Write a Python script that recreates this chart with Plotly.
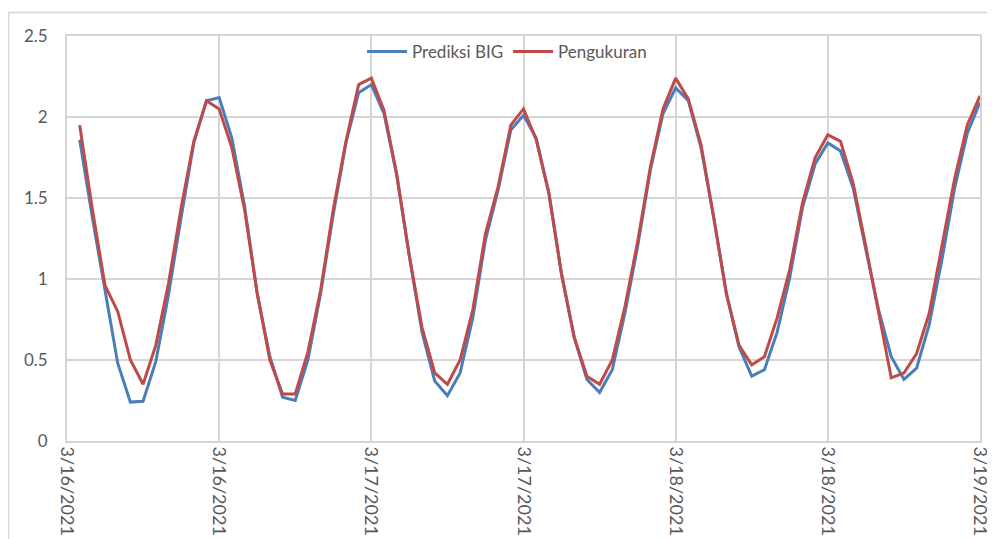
import plotly.graph_objects as go
import pandas as pd

# hourly timestamps, 3/16/2021 01:00 .. 3/19/2021 00:00
times = pd.date_range("2021-03-16 01:00", periods=72, freq="h")

prediksi_big = [
    1.86, 1.38, 0.93, 0.48, 0.24, 0.245, 0.49, 0.90, 1.38, 1.84, 2.10, 2.12,
    1.87, 1.45, 0.91, 0.52, 0.27, 0.25, 0.50, 0.91, 1.40, 1.84, 2.15, 2.20,
    2.02, 1.64, 1.14, 0.67, 0.37, 0.28, 0.42, 0.76, 1.24, 1.55, 1.92, 2.01,
    1.87, 1.53, 1.03, 0.64, 0.38, 0.30, 0.44, 0.79, 1.20, 1.67, 2.02, 2.18,
    2.10, 1.81, 1.38, 0.91, 0.58, 0.40, 0.44, 0.67, 1.01, 1.44, 1.71, 1.84,
    1.79, 1.56, 1.18, 0.81, 0.52, 0.38, 0.45, 0.72, 1.12, 1.56, 1.90, 2.09,
]
pengukuran = [
    1.95, 1.43, 0.96, 0.80, 0.50, 0.35, 0.59, 0.97, 1.44, 1.85, 2.10, 2.05,
    1.81, 1.43, 0.91, 0.50, 0.29, 0.29, 0.55, 0.93, 1.43, 1.85, 2.20, 2.24,
    2.04, 1.65, 1.14, 0.70, 0.42, 0.35, 0.50, 0.81, 1.28, 1.57, 1.95, 2.05,
    1.86, 1.53, 1.03, 0.64, 0.40, 0.35, 0.50, 0.83, 1.23, 1.69, 2.05, 2.24,
    2.11, 1.83, 1.38, 0.91, 0.59, 0.47, 0.52, 0.76, 1.06, 1.47, 1.75, 1.89,
    1.85, 1.59, 1.20, 0.79, 0.39, 0.42, 0.54, 0.79, 1.20, 1.62, 1.95, 2.13,
]

FONT = "Lato"
TXT = "#595959"
GRID = "#d5d5d5"

fig = go.Figure()
fig.add_trace(go.Scatter(x=times, y=prediksi_big, mode="lines", name="Prediksi BIG",
                         line=dict(color="#4a7ebb", width=3)))
fig.add_trace(go.Scatter(x=times, y=pengukuran, mode="lines", name="Pengukuran",
                         line=dict(color="#be4b48", width=3)))

OFF = 8  # page body margin
W, H = 995 - OFF, 539 - OFF
L, R, T, B = 67 - OFF, 15, 36 - OFF, 98
pw, ph = W - L - R, H - T - B

def px(xs):
    return (xs - OFF - L) / pw

def py(ys):
    return (H - B - (ys - OFF)) / ph

fig.update_layout(
    width=W, height=H,
    margin=dict(l=L, r=R, t=T, b=B, pad=0, autoexpand=False),
    paper_bgcolor="white", plot_bgcolor="white",
    font=dict(family=FONT, size=17, color=TXT),
    showlegend=True,
    legend=dict(orientation="h", x=px(507), xanchor="center", y=py(52), yanchor="middle",
                bgcolor="rgba(0,0,0,0)", font=dict(family=FONT, size=17, color=TXT),
                itemwidth=40, tracegroupgap=0),
    xaxis=dict(
        type="date", automargin=False,
        range=["2021-03-16 00:00", "2021-03-19 00:00"],
        tick0="2021-03-16 00:00", dtick=12 * 3600 * 1000,
        tickformat="%-m/%-d/%Y", tickangle=90,
        showgrid=True, gridcolor=GRID, gridwidth=1.5,
        showline=True, linecolor=GRID, linewidth=1.8, mirror=True,
        ticks="", zeroline=False,
        tickfont=dict(family=FONT, size=18, color=TXT),
    ),
    yaxis=dict(
        range=[0, 2.5], dtick=0.5, tick0=0, automargin=False,
        showgrid=True, gridcolor=GRID, gridwidth=1.5,
        showline=True, linecolor=GRID, linewidth=1.8, mirror=True,
        ticks="", zeroline=False, ticklabelstandoff=14,
        tickfont=dict(family=FONT, size=17, color=TXT),
    ),
    shapes=[dict(type="rect", xref="paper", yref="paper",
                 x0=px(8.5), x1=px(1010), y0=py(560), y1=py(12.5),
                 line=dict(color=GRID, width=1.5), fillcolor="rgba(0,0,0,0)", layer="below")],
)

fig.write_html("out.html")
